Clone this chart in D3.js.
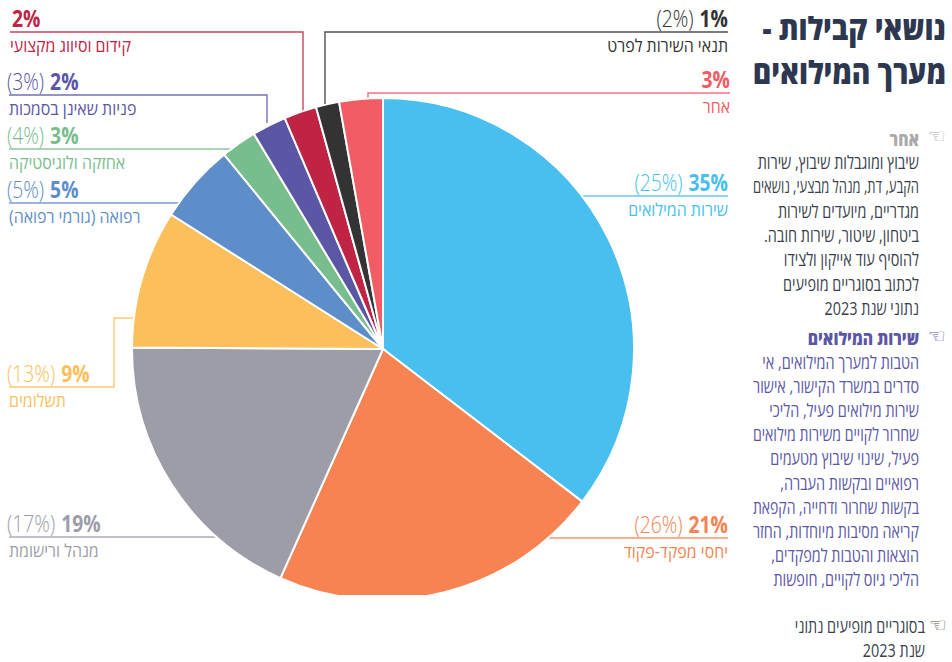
<!DOCTYPE html>
<html lang="he">
<head>
<meta charset="utf-8">
<script src="https://cdn.jsdelivr.net/npm/d3@7"></script>
<style>
  html, body { margin: 0; padding: 0; background: #fff; }
  svg { display: block; }
  text { font-family: "Open Sans", "Liberation Sans", sans-serif; direction: rtl; }
</style>
</head>
<body>
<div id="chart"></div>
<script>
const categories = ["שירות המילואים", "יחסי מפקד-פקוד", "מנהל ורישומת", "תשלומים", "רפואה (גורמי רפואה)", "אחזקה ולוגיסטיקה", "פניות שאינן בסמכות", "קידום וסיווג מקצועי", "תנאי השירות לפרט", "אחר"];
// slice sizes, printed labels are rounded
const sliceValues = [35.4, 21.3, 18.4, 8.9, 5.1, 2.3, 2.2, 2.1, 1.5, 2.8];
const currentLabels = ["35%", "21%", "19%", "9%", "5%", "3%", "2%", "2%", "1%", "3%"];
const previousLabels = ["(25%)", "(26%)", "(17%)", "(13%)", "(5%)", "(4%)", "(3%)", "", "(2%)", ""];
const colors = ["#48bfef", "#f78352", "#9d9da8", "#fdbf5b", "#5e8ec9", "#78bd8e", "#5b57a5", "#c02445", "#333333", "#f25c64"];

const titleLines = ["נושאי קבילות -", "מערך המילואים"];
const otherHead = "אחר";
const otherLines = ["שיבוץ ומוגבלות שיבוץ, שירות", "הקבע, דת, מנהל מבצעי, נושאים", "מגדריים, מיועדים לשירות", "ביטחון, שיטור, שירות חובה.", "להוסיף עוד אייקון ולצידו", "לכתוב בסוגריים מופיעים", "נתוני שנת 2023"];
const reserveHead = "שירות המילואים";
const reserveLines = ["הטבות למערך המילואים, אי", "סדרים במשרד הקישור, אישור", "שירות מילואים פעיל, הליכי", "שחרור לקויים משירות מילואים", "פעיל, שינוי שיבוץ מטעמים", "רפואיים ובקשות העברה,", "בקשות שחרור ודחייה, הקפאת", "קריאה מסיבות מיוחדות, החזר", "הוצאות והטבות למפקדים,", "הליכי גיוס לקויים, חופשות"];
const noteLines = ["בסוגריים מופיעים נתוני", "שנת 2023"];

const width = 952, height = 662;
const cx = 383, cy = 349, radius = 251;

// label placement, same order as categories
const layout = [
  {side: "r", y: 196, x: 728},
  {side: "r", y: 538, x: 728},
  {side: "l", y: 537, x: 9},
  {side: "l", y: 387, x: 9, bendX: 114, bendY: 318},
  {side: "l", y: 203, x: 9},
  {side: "l", y: 149, x: 9},
  {side: "l", y: 95, x: 9, bendX: 267},
  {side: "l", y: 32, x: 10, bendX: 303},
  {side: "r", y: 32, x: 728, bendX: 325},
  {side: "r", y: 93, x: 730, bendX: 368}
];

const svg = d3.select("#chart").append("svg")
    .attr("width", width)
    .attr("height", height)
    .attr("viewBox", [0, 0, width, height]);

const pie = d3.pie().sort(null).value(d => d);
const arcs = pie(sliceValues);
const arc = d3.arc().innerRadius(0).outerRadius(radius);

// draws condensed hebrew text, the installed fonts are all too wide
function label(x, y, str, size, color, weight, anchor, squeeze, maxWidth) {
  const t = svg.append("text")
      .attr("transform", `translate(${x},${y}) scale(${squeeze},1)`)
      .attr("text-anchor", anchor)
      .attr("font-size", size)
      .attr("font-weight", weight)
      .attr("fill", color)
      .text(str);
  // long lines get squeezed a bit more so they stay in the column
  if (maxWidth) {
    const len = t.node().getComputedTextLength();
    if (len * squeeze > maxWidth) t.attr("transform", `translate(${x},${y}) scale(${maxWidth / len},1)`);
  }
  return t;
}

// leader lines go under the pie
const leaders = svg.append("g").attr("fill", "none").attr("stroke-width", 1.4).attr("stroke-opacity", 0.85);
layout.forEach((d, i) => {
  const a = (arcs[i].startAngle + arcs[i].endAngle) / 2;
  const line = d3.line();
  let pts;
  if (d.bendY) {
    pts = [[d.x, d.y], [d.bendX, d.y], [d.bendX, d.bendY], [cx + Math.sin(a) * radius * 0.9, d.bendY]];
  } else if (d.bendX) {
    pts = [[d.x, d.y], [d.bendX, d.y], [d.bendX, cy - radius * 0.9]];
  } else {
    pts = [[d.x, d.y], [cx + Math.sin(a) * radius * 0.5, d.y]];
  }
  leaders.append("path")
      .attr("d", line(pts))
      .attr("stroke", colors[i]);
});

svg.append("g")
    .attr("transform", `translate(${cx},${cy})`)
  .selectAll("path")
  .data(arcs)
  .join("path")
    .attr("d", arc)
    .attr("fill", (d, i) => colors[i])
    .attr("stroke", "#fff")
    .attr("stroke-width", 2);

// the page cuts the bottom of the pie
svg.append("rect")
    .attr("x", 200).attr("y", 595)
    .attr("width", 400).attr("height", 10)
    .attr("fill", "#fff");

// category labels
const bigSize = 23, bigSqueeze = 0.84, nameSize = 17.5, nameSqueeze = 0.91;
layout.forEach((d, i) => {
  const nameY = d.y + 19.5;
  const numY = d.y - 5;
  if (d.side === "r") {
    label(d.x, nameY, categories[i], nameSize, colors[i], 400, "start", nameSqueeze);
    const t = label(d.x, numY, currentLabels[i], bigSize, colors[i], 700, "start", bigSqueeze);
    const w = t.node().getComputedTextLength() * bigSqueeze;
    if (previousLabels[i]) label(d.x - w - 6, numY, previousLabels[i], bigSize, colors[i], 300, "start", bigSqueeze);
  } else {
    label(d.x, nameY, categories[i], nameSize, colors[i], 400, "end", nameSqueeze);
    if (previousLabels[i]) {
      const p = label(d.x - 2, numY, previousLabels[i], bigSize, colors[i], 300, "end", bigSqueeze);
      const w = p.node().getComputedTextLength() * bigSqueeze;
      label(d.x - 2 + w + 6, numY, currentLabels[i], bigSize, colors[i], 700, "end", bigSqueeze);
    } else {
      label(d.x + 2, numY, currentLabels[i], bigSize, colors[i], 700, "end", bigSqueeze);
    }
  }
});

// title
titleLines.forEach((s, i) => {
  label(946, 40 + i * 44, s, 32, "#2d3850", 800, "start", 0.88);
});

const bodySize = 18, bodySqueeze = 0.8, bodyWidth = 166;
function block(head, lines, headY, startY, step, color, headColor) {
  label(919, headY, head, 18, headColor, 800, "start", 0.87);
  lines.forEach((s, i) => label(919, startY + i * step, s, bodySize, color, 400, "start", bodySqueeze, bodyWidth));
}
block(otherHead, otherLines, 146, 169, 24.3, "#3a3f4c", "#aaaaaa");
block(reserveHead, reserveLines, 344.5, 369, 24.1, "#5b57a5", "#5b57a5");
noteLines.forEach((s, i) => label(925, 633 + i * 24, s, bodySize, "#3a3f4c", 400, "start", bodySqueeze));

// pointing hands
const hands = [[937, 137, "#aaaaaa"], [937, 337, "#5b57a5"], [938, 626, "#555555"]];
hands.forEach(h => {
  svg.append("text")
      .attr("x", h[0]).attr("y", h[1] + 6)
      .attr("font-size", 20)
      .attr("text-anchor", "middle")
      .attr("fill", h[2])
      .style("font-family", "DejaVu Sans")
      .style("direction", "ltr")
      .text("\u261C");
});
</script>
</body>
</html>
